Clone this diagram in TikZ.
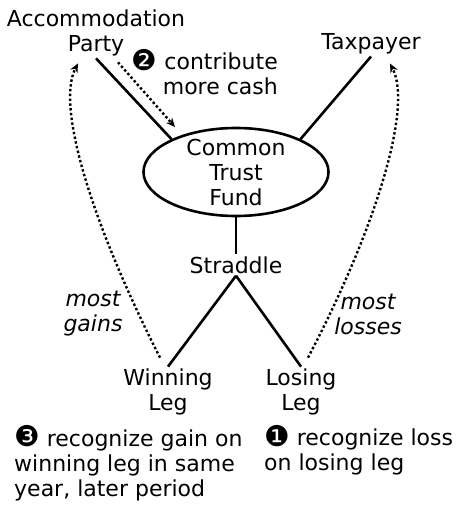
\documentclass[tikz,border=0pt]{standalone}
\usepackage{fontspec}
\setmainfont{DejaVu Sans}
\usetikzlibrary{positioning, calc, arrows.meta, shapes.geometric}

\newcommand{\stepmark}[1]{\raisebox{-0.5pt}{\scalebox{1.3}{#1}}}

\tikzset{
  label text/.style={font=\fontsize{22}{25}\selectfont, align=center, inner sep=2pt},
  link/.style={line width=2.6pt},
  flow/.style={line width=2.4pt, dash pattern=on 2.4pt off 2.4pt, -{Stealth[length=9pt,width=8pt]}},
}

\begin{document}
\begin{tikzpicture}[x=1pt, y=-1pt, every node/.style={label text}]
    \useasboundingbox (0,0) rectangle (465,513);

    % Parties and fund
    \node (party) at (96,33) {Accommodation\\Party};
    \node (taxpayer) at (371,44) {Taxpayer};
    \node[ellipse, draw, line width=2.6pt, minimum width=185pt, minimum height=88pt, inner sep=0pt] (fund) at (236,172) {};
    \node (fundtext) at (fund.center) {Common\\Trust\\Fund};

    % Straddle and its legs
    \node (straddle) at (236,265) {Straddle};
    \node (win) at (168,392) {Winning\\Leg};
    \node (lose) at (301,392) {Losing\\Leg};

    % Notes
    \node[anchor=east, align=right] (cash) at (280,72) {\stepmark{❷} contribute\\more cash};
    \node[font=\fontsize{22}{25}\selectfont\itshape] (gains) at (93,314) {most\\gains};
    \node[font=\fontsize{22}{25}\selectfont\itshape] (losses) at (368,314) {most\\losses};
    \node[anchor=west, align=left] (note3) at (12,463) {\stepmark{❸} recognize gain on\\winning leg in same\\year, later period};
    \node[anchor=west, align=left] (note1) at (262,450) {\stepmark{❶} recognize loss\\on losing leg};

    % Solid links
    \draw[link] (party.south) -- (fund.153);
    \draw[link] (taxpayer.south) -- (fund.27);
    \draw[link] (fund.south) -- (straddle.north);
    \draw[link] (straddle.south) -- (win.north);
    \draw[link] (straddle.south) -- (lose.north);

    % Dotted flows
    \draw[flow] ([xshift=22pt,yshift=-4pt]party.south) -- ([xshift=-61pt,yshift=45pt]fund.center);
    \draw[flow] ([xshift=-8pt,yshift=9pt]win.north) .. controls (95,230) and (55,108) .. ([xshift=-18pt,yshift=-5pt]party.south);
    \draw[flow] ([xshift=7pt,yshift=9pt]lose.north) .. controls (375,230) and (413,108) .. ([xshift=19pt,yshift=-7pt]taxpayer.south);
\end{tikzpicture}
\end{document}
